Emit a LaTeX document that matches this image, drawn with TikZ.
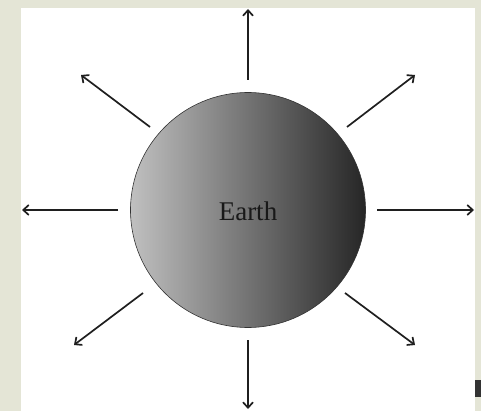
\documentclass[tikz,border=0pt]{standalone}
\usepackage{fontspec}
\setmainfont{Liberation Serif}
\usetikzlibrary{arrows.meta}
\definecolor{bgbeige}{RGB}{228,229,214}
\definecolor{earthlight}{RGB}{192,192,192}
\definecolor{earthdark}{RGB}{38,38,38}
\tikzset{
  ray/.style={line width=1.7pt, draw=black!88, -{Straight Barb[length=5.5pt,width=10pt,line width=1.7pt]}},
}
\begin{document}
\begin{tikzpicture}[x=1pt,y=-1pt]
\useasboundingbox (0,0) rectangle (481,411);
\fill[bgbeige] (0,0) rectangle (481,411);
\fill[white] (21,8) rectangle (475,411);
\fill[black!80] (475,380) rectangle (481,397);
\shade[left color=earthlight, right color=earthdark] (248,210) circle[radius=117.5];
\draw[black!80, line width=0.6pt] (248,210) circle[radius=117.5];
\node[text=black!90, font=\fontsize{27}{30}\selectfont] (earth) at (248,211) {Earth};
% ray coordinates
\coordinate (s1) at (248,80);   \coordinate (e1) at (248,9);
\coordinate (s2) at (248,340);  \coordinate (e2) at (248,409);
\coordinate (s3) at (118,210);  \coordinate (e3) at (22,210);
\coordinate (s4) at (377,210);  \coordinate (e4) at (474,210);
\coordinate (s5) at (150,127);  \coordinate (e5) at (81,75);
\coordinate (s6) at (347,127);  \coordinate (e6) at (415,75);
\coordinate (s7) at (143,293);  \coordinate (e7) at (74,345);
\coordinate (s8) at (345,293);  \coordinate (e8) at (415,345);
\foreach \i in {1,...,8} { \draw[ray] (s\i) -- (e\i); }
\end{tikzpicture}
\end{document}
